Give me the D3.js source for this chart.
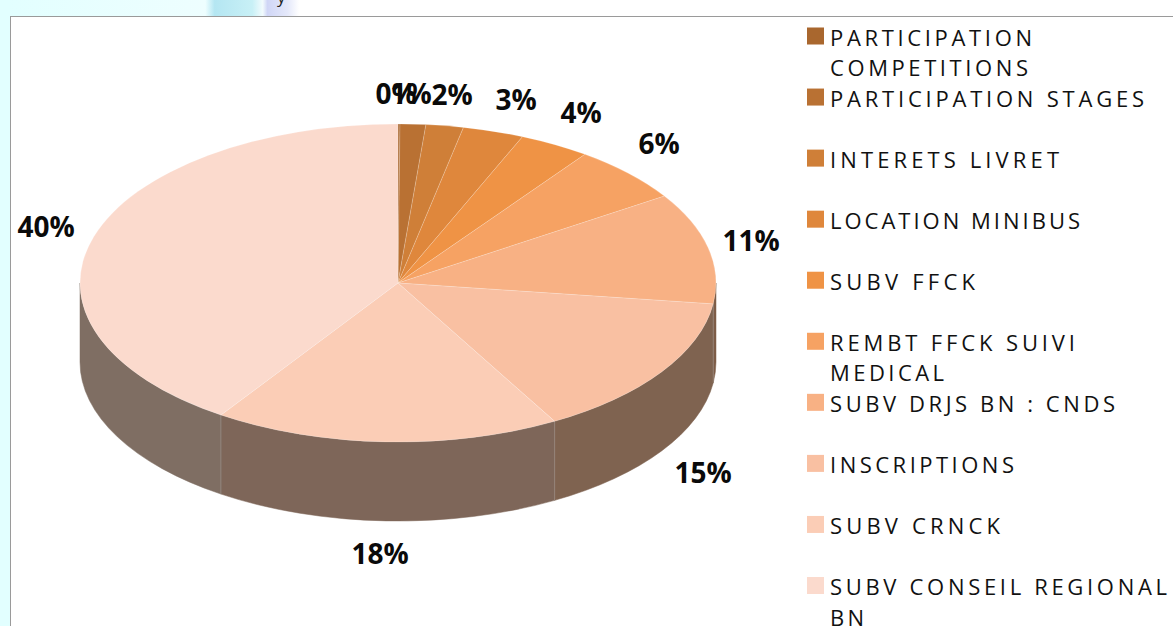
<!DOCTYPE html>
<html>
<head>
<meta charset="utf-8">
<script src="https://cdn.jsdelivr.net/npm/d3@7"></script>
<style>
  html, body { margin: 0; padding: 0; background: #fff; overflow: hidden; }
  .pct { font-family: "Open Sans", sans-serif; font-weight: 700; font-size: 28px; fill: #0a0a0a; text-anchor: middle; }
  .leg { font-family: "Open Sans", sans-serif; font-size: 22px; fill: #111; }
</style>
</head>
<body>
<div id="chart"></div>
<script>
const width = 1173, height = 626;

const categories = ["PARTICIPATION COMPETITIONS", "PARTICIPATION STAGES", "INTERETS LIVRET", "LOCATION MINIBUS",
    "SUBV FFCK", "REMBT FFCK SUIVI MEDICAL", "SUBV DRJS BN : CNDS", "INSCRIPTIONS", "SUBV CRNCK", "SUBV CONSEIL REGIONAL BN"];
const values = [0.1, 1.3, 1.9, 3.1, 3.6, 5.8, 11.3, 14.7, 17.6, 40.6];
const percentLabels = ["0%", "1%", "2%", "3%", "4%", "6%", "11%", "15%", "18%", "40%"];
const colors = ["#a9672e", "#b97133", "#cf7f38", "#df873c", "#ef9345", "#f6a263", "#f8b184", "#f9c0a2", "#fbcdb6", "#fbdacd"];
const sideColors = ["#6d4b33", "#6f4c34", "#735036", "#76523a", "#7a553b", "#7c5a42", "#7d5c47", "#7f6350", "#7e6659", "#7f6e63"];
const legendLines = [["PARTICIPATION", "COMPETITIONS"], ["PARTICIPATION STAGES"], ["INTERETS LIVRET"], ["LOCATION MINIBUS"],
    ["SUBV FFCK"], ["REMBT FFCK SUIVI", "MEDICAL"], ["SUBV DRJS BN : CNDS"], ["INSCRIPTIONS"], ["SUBV CRNCK"], ["SUBV CONSEIL REGIONAL", "BN"]];
const legendWidths = [[202, 198], [314], [229], [250], [145], [245, 114], [285], [184], [170], [337, 34]];

const cx = 398, cy = 283, rx = 318, ry = 159, depth = 79;

const svg = d3.select("#chart").append("svg")
    .attr("width", width)
    .attr("height", height);

// page background behind the chart frame
const defs = svg.append("defs");
const bg = defs.append("linearGradient").attr("id", "bandGrad");
bg.selectAll("stop")
    .data([[0, "#e2ffff"], [0.175, "#eefeff"], [0.183, "#b4e6f2"], [0.215, "#c8f0f6"], [0.224, "#f2fbfd"], [0.228, "#d0d6f6"],
        [0.245, "#e4e8fa"], [0.255, "#ffffff"], [1, "#ffffff"]])
    .join("stop")
    .attr("offset", d => d[0])
    .attr("stop-color", d => d[1]);

svg.append("rect").attr("width", width).attr("height", 16).attr("fill", "url(#bandGrad)");
svg.append("rect").attr("width", 10).attr("height", height).attr("fill", "#e2ffff");
svg.append("text").attr("x", 277).attr("y", 3).attr("font-family", "Open Sans").attr("font-size", 17).attr("fill", "#222").text("y");
svg.append("rect")
    .attr("x", 10.5).attr("y", 16.5)
    .attr("width", width).attr("height", height)
    .attr("fill", "#fff").attr("stroke", "#9a9a9a");

const pie = d3.pie().sort(null).value(d => d);
const arcs = pie(values);
const arc = d3.arc().innerRadius(0).outerRadius(rx);

// side wall, only the front half of the ellipse shows
const px = t => cx + rx * Math.sin(t);
const py = t => cy - ry * Math.cos(t);
function wallPath(a) {
    const t0 = Math.max(a.startAngle, Math.PI / 2), t1 = Math.min(a.endAngle, Math.PI * 1.5);
    if (t1 <= t0) return null;
    return "M" + px(t0) + "," + py(t0)
        + "A" + rx + "," + ry + " 0 0 1 " + px(t1) + "," + py(t1)
        + "L" + px(t1) + "," + (py(t1) + depth)
        + "A" + rx + "," + ry + " 0 0 0 " + px(t0) + "," + (py(t0) + depth) + "Z";
}

svg.append("g").selectAll("path")
    .data(arcs.filter(a => wallPath(a)))
    .join("path")
    .attr("d", wallPath)
    .attr("fill", a => sideColors[a.index])
    .attr("stroke", a => sideColors[a.index])
    .attr("stroke-width", 0.5);

// thin seams between wall pieces
svg.append("g").selectAll("line")
    .data(arcs.filter(a => a.endAngle > Math.PI / 2 && a.endAngle < Math.PI * 1.5))
    .join("line")
    .attr("x1", a => px(a.endAngle)).attr("x2", a => px(a.endAngle))
    .attr("y1", a => py(a.endAngle)).attr("y2", a => py(a.endAngle) + depth)
    .attr("stroke", "#a0948c")
    .attr("stroke-width", 0.6);

svg.append("g")
    .attr("transform", "translate(" + cx + "," + cy + ") scale(1," + (ry / rx) + ")")
    .selectAll("path")
    .data(arcs)
    .join("path")
    .attr("d", arc)
    .attr("fill", a => colors[a.index])
    .attr("stroke", "#fff")
    .attr("stroke-opacity", 0.3)
    .attr("stroke-width", 0.6)
    .attr("vector-effect", "non-scaling-stroke");

// percent labels
const labelPos = [[396, 104], [411, 104], [452, 105], [516, 110], [581, 123], [659, 154], [751, 251], [703, 483], [380, 564], [46, 237]];
svg.append("g").selectAll("text")
    .data(percentLabels)
    .join("text")
    .attr("class", "pct")
    .attr("x", (d, i) => labelPos[i][0])
    .attr("y", (d, i) => labelPos[i][1])
    .text(d => d);

// legend
const legendY = d3.scalePoint().domain(d3.range(categories.length)).range([27.5, 577]);
const legend = svg.append("g").selectAll("g")
    .data(categories)
    .join("g")
    .attr("transform", (d, i) => "translate(807," + legendY(i) + ")");

legend.append("rect")
    .attr("width", 17).attr("height", 17)
    .attr("fill", (d, i) => colors[i]);

legend.each(function(d, i) {
    d3.select(this).selectAll("text")
        .data(legendLines[i])
        .join("text")
        .attr("class", "leg")
        .attr("x", 23)
        .attr("y", (s, j) => 18 + j * 30.5)
        .attr("textLength", (s, j) => legendWidths[i][j])
        .attr("lengthAdjust", "spacing")
        .text(s => s);
});
</script>
</body>
</html>
